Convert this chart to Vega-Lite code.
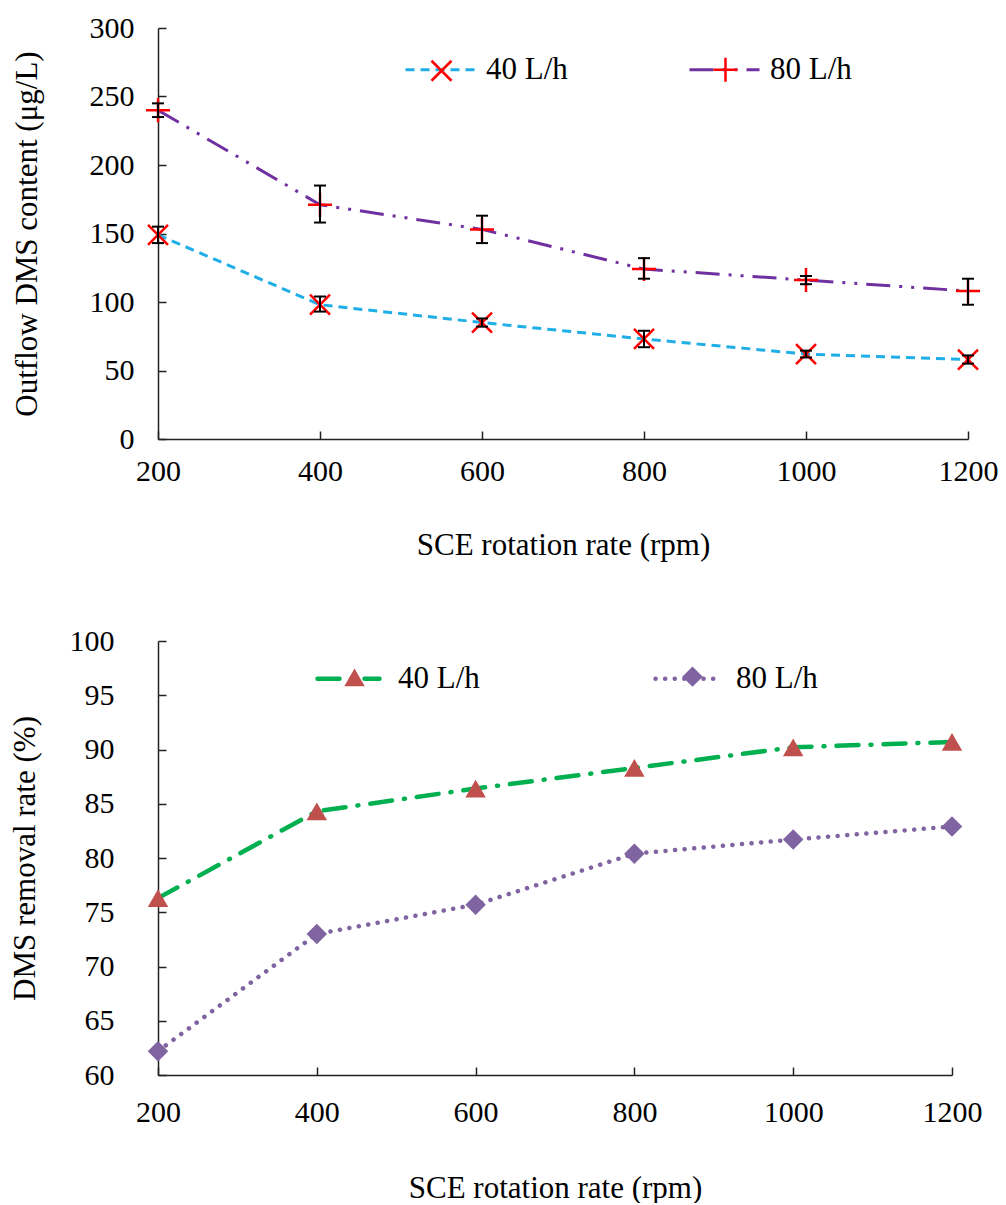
{
  "$schema": "https://vega.github.io/schema/vega-lite/v6.json",
  "padding": {"left": 9, "top": 13, "right": 0, "bottom": 0},
  "background": "white",
  "columns": 1,
  "align": "none",
  "spacing": 66,
  "resolve": {"scale": {"x": "independent", "y": "independent", "color": "independent", "strokeDash": "independent", "shape": "independent", "fill": "independent"}},
  "config": {
    "font": "Liberation Serif",
    "view": {"stroke": null},
    "axis": {
      "grid": false,
      "domainColor": "#222222",
      "domainWidth": 1.5,
      "tickColor": "#222222",
      "tickWidth": 1.5,
      "tickSize": -8,
      "labelFont": "Liberation Serif",
      "labelFontSize": 30,
      "labelColor": "black",
      "labelFlush": false,
      "labelOverlap": false,
      "titleFont": "Liberation Serif",
      "titleFontSize": 31,
      "titleFontWeight": "normal",
      "titleColor": "black",
      "format": "d"
    },
    "legend": {"labelFont": "Liberation Serif", "labelColor": "black", "padding": 0}
  },
  "datasets": {
    "outflow": [
      {"rate": 200, "series": "40 L/h", "value": 149, "lo": 143, "hi": 155},
      {"rate": 400, "series": "40 L/h", "value": 98, "lo": 93, "hi": 104},
      {"rate": 600, "series": "40 L/h", "value": 85, "lo": 82, "hi": 88},
      {"rate": 800, "series": "40 L/h", "value": 73, "lo": 67, "hi": 79},
      {"rate": 1000, "series": "40 L/h", "value": 62, "lo": 59.5, "hi": 64.5},
      {"rate": 1200, "series": "40 L/h", "value": 58, "lo": 55, "hi": 61},
      {"rate": 200, "series": "80 L/h", "value": 240, "lo": 235, "hi": 245},
      {"rate": 400, "series": "80 L/h", "value": 171, "lo": 158, "hi": 185},
      {"rate": 600, "series": "80 L/h", "value": 153, "lo": 143, "hi": 163},
      {"rate": 800, "series": "80 L/h", "value": 124, "lo": 117, "hi": 132},
      {"rate": 1000, "series": "80 L/h", "value": 116, "lo": 113, "hi": 119},
      {"rate": 1200, "series": "80 L/h", "value": 108, "lo": 98, "hi": 117}
    ],
    "removal": [
      {"rate": 200, "series": "40 L/h", "value": 76.3},
      {"rate": 400, "series": "40 L/h", "value": 84.3},
      {"rate": 600, "series": "40 L/h", "value": 86.4},
      {"rate": 800, "series": "40 L/h", "value": 88.3},
      {"rate": 1000, "series": "40 L/h", "value": 90.2},
      {"rate": 1200, "series": "40 L/h", "value": 90.7},
      {"rate": 200, "series": "80 L/h", "value": 62.2},
      {"rate": 400, "series": "80 L/h", "value": 73.0},
      {"rate": 600, "series": "80 L/h", "value": 75.7},
      {"rate": 800, "series": "80 L/h", "value": 80.4},
      {"rate": 1000, "series": "80 L/h", "value": 81.7},
      {"rate": 1200, "series": "80 L/h", "value": 82.9}
    ]
  },
  "concat": [
    {
      "width": 810,
      "height": 411,
      "data": {"name": "outflow"},
      "encoding": {
        "x": {
          "field": "rate", "type": "quantitative",
          "scale": {"domain": [200, 1200], "nice": false, "zero": false},
          "axis": {"values": [200, 400, 600, 800, 1000, 1200], "title": "SCE rotation rate (rpm)", "labelPadding": 25, "titlePadding": 44}
        }
      },
      "layer": [
        {
          "mark": {"type": "line", "strokeWidth": 3},
          "encoding": {
            "y": {
              "field": "value", "type": "quantitative",
              "scale": {"domain": [0, 300], "nice": false},
              "axis": {"values": [0, 50, 100, 150, 200, 250, 300], "title": "Outflow DMS content (μg/L)", "labelPadding": 32, "titlePadding": 46}
            },
            "color": {
              "field": "series", "type": "nominal",
              "scale": {"range": ["#1FAEE6", "#7030A0"]},
              "legend": {"orient": "none", "legendX": 246, "legendY": 5, "direction": "horizontal", "symbolType": "stroke", "symbolSize": 4900, "symbolStrokeWidth": 3, "labelFontSize": 31, "labelOffset": 9, "columnPadding": 115, "title": null}
            },
            "strokeDash": {
              "field": "series", "type": "nominal",
              "scale": {"range": [[9, 6], [24, 9, 3, 9, 3, 9]]},
              "legend": {"orient": "none", "legendX": 246, "legendY": 5, "direction": "horizontal", "symbolType": "stroke", "symbolSize": 4900, "symbolStrokeWidth": 3, "labelFontSize": 31, "labelOffset": 9, "columnPadding": 115, "title": null}
            }
          }
        },
        {
          "mark": {"type": "point", "filled": false, "stroke": "#FF0000", "strokeWidth": 2.5, "size": 400, "opacity": 1},
          "encoding": {
            "y": {"field": "value", "type": "quantitative"},
            "shape": {
              "field": "series", "type": "nominal",
              "scale": {"domain": ["40 L/h", "80 L/h"], "range": ["M-1,-1L1,1M-1,1L1,-1", "M-1.2,0L1.2,0M0,-1.2L0,1.2"]},
              "legend": {"orient": "none", "legendX": 272, "legendY": 30, "direction": "horizontal", "symbolSize": 400, "symbolStrokeColor": "#FF0000", "symbolFillColor": "transparent", "symbolStrokeWidth": 2.5, "labelExpr": "''", "labelFontSize": 1, "labelOffset": 0, "columnPadding": 251, "title": null}
            }
          }
        },
        {
          "mark": {"type": "rule", "color": "black", "strokeWidth": 2},
          "encoding": {
            "y": {"field": "lo", "type": "quantitative"},
            "y2": {"field": "hi"}
          }
        },
        {
          "mark": {"type": "tick", "orient": "horizontal", "color": "black", "size": 12, "thickness": 2, "opacity": 1},
          "encoding": {"y": {"field": "lo", "type": "quantitative"}}
        },
        {
          "mark": {"type": "tick", "orient": "horizontal", "color": "black", "size": 12, "thickness": 2, "opacity": 1},
          "encoding": {"y": {"field": "hi", "type": "quantitative"}}
        }
      ]
    },
    {
      "width": 794,
      "height": 434,
      "data": {"name": "removal"},
      "encoding": {
        "x": {
          "field": "rate", "type": "quantitative",
          "scale": {"domain": [200, 1200], "nice": false, "zero": false},
          "axis": {"values": [200, 400, 600, 800, 1000, 1200], "title": "SCE rotation rate (rpm)", "labelPadding": 30, "titlePadding": 46}
        },
        "y": {
          "field": "value", "type": "quantitative",
          "scale": {"domain": [60, 100], "nice": false, "zero": false},
          "axis": {"values": [60, 65, 70, 75, 80, 85, 90, 95, 100], "title": "DMS removal rate (%)", "labelPadding": 52, "titlePadding": 28}
        }
      },
      "layer": [
        {
          "mark": {"type": "line", "strokeWidth": 4.5, "strokeCap": "round"},
          "encoding": {
            "color": {
              "field": "series", "type": "nominal",
              "scale": {"range": ["#00B050", "#8064A2"]},
              "legend": {"orient": "none", "legendX": 157, "legendY": 4, "direction": "horizontal", "symbolType": "stroke", "symbolSize": 3844, "symbolStrokeWidth": 4.5, "labelFontSize": 31, "labelOffset": 16, "columnPadding": 166, "title": null, "encode": {"symbols": {"update": {"strokeCap": {"value": "round"}}}}}
            },
            "strokeDash": {
              "field": "series", "type": "nominal",
              "scale": {"range": [[22, 12, 1, 12], [0.1, 9.5]]},
              "legend": {"orient": "none", "legendX": 157, "legendY": 4, "direction": "horizontal", "symbolType": "stroke", "symbolSize": 3844, "symbolStrokeWidth": 4.5, "labelFontSize": 31, "labelOffset": 16, "columnPadding": 166, "title": null, "encode": {"symbols": {"update": {"strokeCap": {"value": "round"}}}}}
            }
          }
        },
        {
          "mark": {"type": "point", "filled": true, "size": 420, "opacity": 1},
          "encoding": {
            "shape": {
              "field": "series", "type": "nominal",
              "scale": {"domain": ["40 L/h", "80 L/h"], "range": ["triangle-up", "diamond"]},
              "legend": {"orient": "none", "legendX": 186, "legendY": 25, "direction": "horizontal", "symbolSize": 420, "symbolStrokeWidth": 0, "labelExpr": "''", "labelFontSize": 1, "labelOffset": 0, "columnPadding": 317, "title": null}
            },
            "fill": {
              "field": "series", "type": "nominal",
              "scale": {"domain": ["40 L/h", "80 L/h"], "range": ["#C0504D", "#8064A2"]},
              "legend": {"orient": "none", "legendX": 186, "legendY": 25, "direction": "horizontal", "symbolSize": 420, "symbolStrokeWidth": 0, "labelExpr": "''", "labelFontSize": 1, "labelOffset": 0, "columnPadding": 317, "title": null}
            }
          }
        }
      ]
    }
  ]
}
